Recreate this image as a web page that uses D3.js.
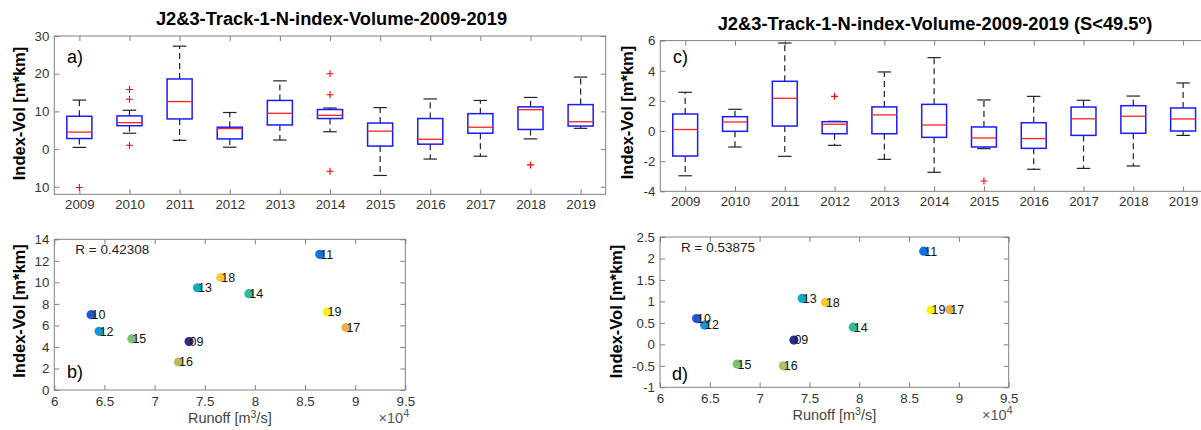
<!DOCTYPE html>
<html><head><meta charset="utf-8">
<script src="https://cdn.jsdelivr.net/npm/d3@7/dist/d3.min.js"></script>
<style>
body{margin:0;background:#fff}
svg{display:block}
text{font-family:"Liberation Sans",Arial,Helvetica,sans-serif}
</style>
</head><body>
<svg id="chart" width="1201" height="430"></svg>
<script>
// ---------------- data ----------------
const years = ["2009","2010","2011","2012","2013","2014","2015","2016","2017","2018","2019"];
const yearShort = ["09","10","11","12","13","14","15","16","17","18","19"];

// panel a: Index-Volume, all
const volLo  = [0.45, 4.2, 2.3, 0.5, 2.4, 4.6, -7.0, -2.65, -1.9, 2.7, 5.5];
const volQ1  = [2.8, 6.2, 8.0, 2.7, 6.4, 8.1, 0.8, 1.3, 4.2, 5.2, 6.1];
const volMed = [4.5, 7.0, 12.6, 5.45, 9.5, 8.95, 4.75, 2.6, 5.8, 10.45, 7.25];
const volQ3  = [8.7, 8.8, 18.6, 5.8, 12.9, 10.5, 6.9, 8.1, 9.4, 11.2, 11.8];
const volHi  = [13.0, 10.3, 27.3, 9.7, 18.1, 10.9, 11.0, 13.3, 12.9, 13.7, 19.1];
const volOut = [[-10.2], [15.8, 13.2, 1.0], [], [], [], [20.0, 14.4, -5.9], [], [], [], [-4.2], []];

// panel c: Index-Volume, S<49.5
const sLo  = [-2.97, -1.06, -1.68, -0.95, -1.88, -2.74, -1.17, -2.54, -2.48, -2.32, -0.29];
const sQ1  = [-1.66, -0.02, 0.33, -0.18, -0.18, -0.42, -1.06, -1.15, -0.29, -0.15, 0.0];
const sMed = [0.1, 0.6, 2.17, 0.45, 1.07, 0.4, -0.46, -0.5, 0.81, 0.98, 0.8];
const sQ3  = [1.13, 0.95, 3.3, 0.62, 1.6, 1.77, 0.27, 0.55, 1.59, 1.68, 1.53];
const sHi  = [2.57, 1.44, 5.84, 0.64, 3.92, 4.87, 2.06, 2.3, 2.04, 2.32, 3.19];
const sOut = [[], [], [], [2.3], [], [], [-3.32], [], [], [], []];

// runoff [m^3/s]
const runoff = [73440, 63670, 86470, 64470, 74280, 79400, 67740, 72380, 89080, 76600, 87200];
const rTextAll = "R = 0.42308";
const rTextS = "R = 0.53875";

// ticks
const boxATicks = [-10, 0, 10, 20, 30];
const boxATickLabels = ["10", "0", "10", "20", "30"];
const boxCTicks = [-4, -2, 0, 2, 4, 6];
const scBTicks = [0, 2, 4, 6, 8, 10, 12, 14];
const scDTicks = [-1, -0.5, 0, 0.5, 1, 1.5, 2, 2.5];
const runoffTicks = [60000, 65000, 70000, 75000, 80000, 85000, 90000, 95000];

// parula-like colors per year
const yearColors = ["#2f2b88", "#2453d8", "#0f74df", "#1696d6", "#0eaac6", "#35b8a0", "#7bc075", "#b8bb60", "#eeb045", "#f7c82f", "#f5f416"];

// ---------------- drawing ----------------
const svg = d3.select("#chart");
const hyph = v => String(v).replace("\u2212", "-");
const FRAME = "#808080", LABEL = "#333";

function axes(g, x, y, box, xTicks, xFmt, yTicks, yFmt, xPad) {
  const [L, R, T, B] = box;
  const bottom = g.append("g").attr("transform", `translate(0,${B})`)
    .call(d3.axisBottom(x).tickValues(xTicks).tickFormat(xFmt).tickSizeInner(-5).tickSizeOuter(0).tickPadding(xPad));
  const top = g.append("g").attr("transform", `translate(0,${T})`)
    .call(d3.axisTop(x).tickValues(xTicks).tickFormat("").tickSizeInner(-5).tickSizeOuter(0));
  const left = g.append("g").attr("transform", `translate(${L},0)`)
    .call(d3.axisLeft(y).tickValues(yTicks).tickFormat(yFmt).tickSizeInner(-5).tickSizeOuter(0).tickPadding(5));
  const right = g.append("g").attr("transform", `translate(${R},0)`)
    .call(d3.axisRight(y).tickValues(yTicks).tickFormat("").tickSizeInner(-5).tickSizeOuter(0));
  [bottom, top, left, right].forEach(a => {
    a.select(".domain").remove();
    a.selectAll("line").attr("stroke", FRAME);
    a.selectAll("text").attr("fill", LABEL).attr("font-size", 13.3);
  });
  g.append("rect").attr("x", L).attr("y", T).attr("width", R - L).attr("height", B - T)
    .attr("fill", "none").attr("stroke", FRAME).attr("stroke-width", 1);
}

function boxPanel(box, yDomain, yTicks, yFmt, lo, q1, med, q3, hi, outs) {
  const [L, R, T, B] = box;
  const g = svg.append("g");
  const x = d3.scaleLinear().domain([0.5, 11.5]).range([L, R]);
  const y = d3.scaleLinear().domain(yDomain).range([B, T]);
  const idx = d3.range(1, 12);
  axes(g, x, y, box, idx, i => years[i - 1], yTicks, yFmt, 5.5);
  const hw = 0.25, cw = 0.135;
  const d = years.map((yr, i) => ({i: i + 1, lo: lo[i], q1: q1[i], med: med[i], q3: q3[i], hi: hi[i], out: outs[i]}));
  const bx = g.append("g");
  bx.selectAll(".wu").data(d).join("line")
    .attr("x1", p => x(p.i)).attr("x2", p => x(p.i)).attr("y1", p => y(p.q3)).attr("y2", p => y(p.hi))
    .attr("stroke", "#222").attr("stroke-width", 1.2).attr("stroke-dasharray", "6,4");
  bx.selectAll(".wl").data(d).join("line")
    .attr("x1", p => x(p.i)).attr("x2", p => x(p.i)).attr("y1", p => y(p.q1)).attr("y2", p => y(p.lo))
    .attr("stroke", "#222").attr("stroke-width", 1.2).attr("stroke-dasharray", "6,4");
  ["hi", "lo"].forEach(k => {
    bx.selectAll(".cap" + k).data(d).join("line")
      .attr("x1", p => x(p.i - cw)).attr("x2", p => x(p.i + cw)).attr("y1", p => y(p[k])).attr("y2", p => y(p[k]))
      .attr("stroke", "#222").attr("stroke-width", 1.2);
  });
  bx.selectAll(".bx").data(d).join("rect")
    .attr("x", p => x(p.i - hw)).attr("width", p => x(p.i + hw) - x(p.i - hw))
    .attr("y", p => y(p.q3)).attr("height", p => y(p.q1) - y(p.q3))
    .attr("fill", "none").attr("stroke", "#1a1aff").attr("stroke-width", 1.5);
  bx.selectAll(".md").data(d).join("line")
    .attr("x1", p => x(p.i - hw)).attr("x2", p => x(p.i + hw)).attr("y1", p => y(p.med)).attr("y2", p => y(p.med))
    .attr("stroke", "#ff2020").attr("stroke-width", 1.3);
  const od = d.flatMap(p => p.out.map(v => ({i: p.i, v})));
  const s = 3.5;
  bx.selectAll(".oh").data(od).join("path")
    .attr("d", p => `M${x(p.i) - s},${y(p.v)}H${x(p.i) + s}M${x(p.i)},${y(p.v) - s}V${y(p.v) + s}`)
    .attr("stroke", "#ff0000").attr("stroke-width", 1.1).attr("fill", "none");
  return g;
}

function scatterPanel(box, yDomain, yTicks, yFmt, yVals, rText) {
  const [L, R, T, B] = box;
  const g = svg.append("g");
  const x = d3.scaleLinear().domain([60000, 95000]).range([L, R]);
  const y = d3.scaleLinear().domain(yDomain).range([B, T]);
  axes(g, x, y, box, runoffTicks, v => String(v / 1e4), yTicks, yFmt, 6.5);
  const d = runoff.map((r, i) => ({r, v: yVals[i], lab: yearShort[i], c: yearColors[i]}));
  g.selectAll(".pt").data(d).join("circle")
    .attr("cx", p => x(p.r)).attr("cy", p => y(p.v)).attr("r", 4.6).attr("fill", p => p.c);
  g.selectAll(".lb").data(d).join("text")
    .attr("x", p => x(p.r) + 0.5).attr("y", p => y(p.v) + 4.4)
    .attr("font-size", 12.5).attr("fill", "#111").text(p => p.lab);
  g.append("text").attr("x", L + 21).attr("y", T + 14.5).attr("font-size", 13.5).attr("fill", "#222").text(rText);
  const xl = g.append("text").attr("x", (L + R) / 2).attr("y", B + 33).attr("text-anchor", "middle")
    .attr("font-size", 14.5).attr("fill", "#444");
  xl.append("tspan").text("Runoff [m");
  xl.append("tspan").attr("dy", -5).attr("font-size", 10.5).text("3");
  xl.append("tspan").attr("dy", 5).text("/s]");
  const ex = g.append("text").attr("x", R + 4).attr("y", B + 33).attr("text-anchor", "end")
    .attr("font-size", 14.5).attr("fill", "#555");
  ex.append("tspan").text("\u00d710");
  ex.append("tspan").attr("dy", -6).attr("font-size", 11).text("4");
  return g;
}

function ylabel(xb, yc) {
  svg.append("text").attr("transform", `translate(${xb},${yc}) rotate(-90)`).attr("text-anchor", "middle")
    .attr("font-size", 16.5).attr("font-weight", "bold").attr("fill", "#000").text("Index-Vol [m*km]");
}
function plabel(x, y, t) {
  svg.append("text").attr("x", x).attr("y", y).attr("font-size", 18).attr("fill", "#000").text(t);
}

const boxA = [54.3, 605.7, 36, 194.3];
boxPanel(boxA, [-12, 30], boxATicks, v => boxATickLabels[boxATicks.indexOf(v)], volLo, volQ1, volMed, volQ3, volHi, volOut);
const boxC = [660.3, 1208, 40.6, 191.3];
boxPanel(boxC, [-4, 6], boxCTicks, v => hyph(v), sLo, sQ1, sMed, sQ3, sHi, sOut);
const boxB = [54.3, 405.3, 239.3, 390];
scatterPanel(boxB, [0, 14], scBTicks, v => String(v), volMed, rTextAll);
const boxD = [660, 1008.7, 237, 387.3];
scatterPanel(boxD, [-1, 2.5], scDTicks, v => String(v), sMed, rTextS);

svg.append("text").attr("x", 331.5).attr("y", 25).attr("text-anchor", "middle")
  .attr("font-size", 18.3).attr("font-weight", "bold").text("J2&3-Track-1-N-index-Volume-2009-2019");
const tc = svg.append("text").attr("x", 935).attr("y", 30).attr("text-anchor", "middle")
  .attr("font-size", 18.3).attr("font-weight", "bold");
tc.append("tspan").text("J2&3-Track-1-N-index-Volume-2009-2019 (S<49.5");
tc.append("tspan").attr("dy", -6).attr("font-size", 12.5).text("o");
tc.append("tspan").attr("dy", 6).text(")");

ylabel(25, 113.5);
ylabel(25, 311);
ylabel(633, 112.5);
ylabel(622, 311.5);

plabel(67, 63, "a)");
plabel(673, 63, "c)");
plabel(67, 378, "b)");
plabel(672, 380, "d)");
</script>
</body></html>
